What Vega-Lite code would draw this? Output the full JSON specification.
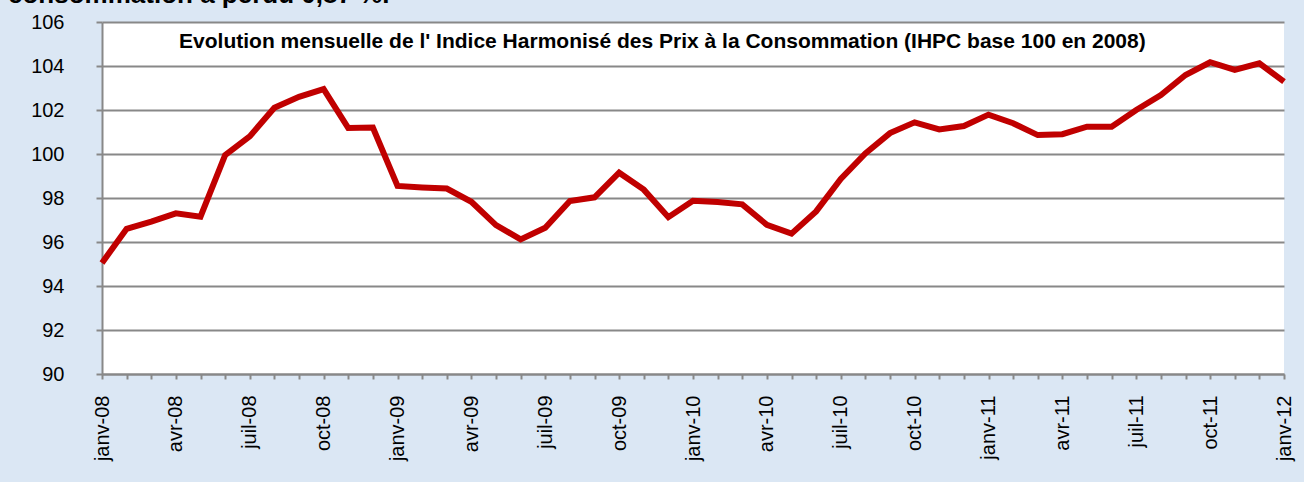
{
  "$schema": "https://vega.github.io/schema/vega-lite/v6.json",
  "width": 1182,
  "height": 352,
  "autosize": {"type": "none"},
  "padding": {"top": 22, "left": 102, "right": 20, "bottom": 108},
  "background": "#dbe7f4",
  "title": {
    "text": "consommation a perdu 0,87 %.",
    "anchor": "start",
    "frame": "group",
    "fontSize": 26,
    "fontWeight": "bold",
    "font": "Liberation Sans",
    "color": "#000000",
    "dx": -94,
    "dy": -4,
    "offset": 0
  },
  "config": {
    "view": {"fill": "#ffffff", "stroke": null},
    "font": "Liberation Sans"
  },
  "layer": [
    {
      "data": {
        "values": [
          {"mois": "janv-08", "ihpc": 95.05},
          {"mois": "févr-08", "ihpc": 96.6},
          {"mois": "mars-08", "ihpc": 96.93},
          {"mois": "avr-08", "ihpc": 97.3},
          {"mois": "mai-08", "ihpc": 97.15},
          {"mois": "juin-08", "ihpc": 99.95},
          {"mois": "juil-08", "ihpc": 100.8},
          {"mois": "août-08", "ihpc": 102.1},
          {"mois": "sept-08", "ihpc": 102.6},
          {"mois": "oct-08", "ihpc": 102.95},
          {"mois": "nov-08", "ihpc": 101.18},
          {"mois": "déc-08", "ihpc": 101.2},
          {"mois": "janv-09", "ihpc": 98.55},
          {"mois": "févr-09", "ihpc": 98.48},
          {"mois": "mars-09", "ihpc": 98.43},
          {"mois": "avr-09", "ihpc": 97.83},
          {"mois": "mai-09", "ihpc": 96.77},
          {"mois": "juin-09", "ihpc": 96.12},
          {"mois": "juil-09", "ihpc": 96.65},
          {"mois": "août-09", "ihpc": 97.86},
          {"mois": "sept-09", "ihpc": 98.03},
          {"mois": "oct-09", "ihpc": 99.15},
          {"mois": "nov-09", "ihpc": 98.38},
          {"mois": "déc-09", "ihpc": 97.13},
          {"mois": "janv-10", "ihpc": 97.87},
          {"mois": "févr-10", "ihpc": 97.82},
          {"mois": "mars-10", "ihpc": 97.71},
          {"mois": "avr-10", "ihpc": 96.78},
          {"mois": "mai-10", "ihpc": 96.38},
          {"mois": "juin-10", "ihpc": 97.39},
          {"mois": "juil-10", "ihpc": 98.87},
          {"mois": "août-10", "ihpc": 100.03},
          {"mois": "sept-10", "ihpc": 100.95},
          {"mois": "oct-10", "ihpc": 101.44},
          {"mois": "nov-10", "ihpc": 101.12},
          {"mois": "déc-10", "ihpc": 101.27},
          {"mois": "janv-11", "ihpc": 101.79},
          {"mois": "févr-11", "ihpc": 101.4},
          {"mois": "mars-11", "ihpc": 100.86},
          {"mois": "avr-11", "ihpc": 100.9},
          {"mois": "mai-11", "ihpc": 101.24},
          {"mois": "juin-11", "ihpc": 101.24},
          {"mois": "juil-11", "ihpc": 102.0},
          {"mois": "août-11", "ihpc": 102.68},
          {"mois": "sept-11", "ihpc": 103.59},
          {"mois": "oct-11", "ihpc": 104.17},
          {"mois": "nov-11", "ihpc": 103.82},
          {"mois": "déc-11", "ihpc": 104.12},
          {"mois": "janv-12", "ihpc": 103.29}
        ]
      },
      "mark": {"type": "line", "color": "#c00000", "strokeWidth": 6, "strokeJoin": "miter"},
      "encoding": {
        "x": {
          "field": "mois",
          "type": "ordinal",
          "sort": null,
          "scale": {"type": "point", "padding": 0},
          "axis": {
            "title": null,
            "labelAngle": -90,
            "labelExpr": "indexof(['janv','avr','juil','oct'], split(datum.label,'-')[0]) >= 0 ? datum.label : ''",
            "labelFontSize": 20,
            "labelColor": "#000000",
            "labelPadding": 16,
            "tickSize": 5,
            "tickColor": "#888888",
            "tickWidth": 2,
            "domainColor": "#888888",
            "domainWidth": 2,
            "grid": false
          }
        },
        "y": {
          "field": "ihpc",
          "type": "quantitative",
          "scale": {"domain": [90, 106], "nice": false, "zero": false},
          "axis": {
            "title": null,
            "values": [90, 92, 94, 96, 98, 100, 102, 104, 106],
            "labelFontSize": 20,
            "labelColor": "#000000",
            "labelPadding": 32,
            "tickSize": 6,
            "tickColor": "#888888",
            "tickWidth": 2,
            "domainColor": "#888888",
            "domainWidth": 2,
            "grid": true,
            "gridColor": "#888888",
            "gridWidth": 2,
            "gridOpacity": 1
          }
        }
      }
    },
    {
      "data": {"values": [{"titre": "Evolution mensuelle de l' Indice Harmonisé des Prix à la Consommation (IHPC base 100 en 2008)", "mois": "déc-09", "niveau": 104.82}]},
      "mark": {"type": "text", "fontSize": 21, "fontWeight": "bold", "align": "center", "baseline": "alphabetic", "color": "#000000", "dx": -6},
      "encoding": {
        "x": {"field": "mois", "type": "ordinal", "sort": null},
        "y": {"field": "niveau", "type": "quantitative"},
        "text": {"field": "titre"}
      }
    }
  ]
}
